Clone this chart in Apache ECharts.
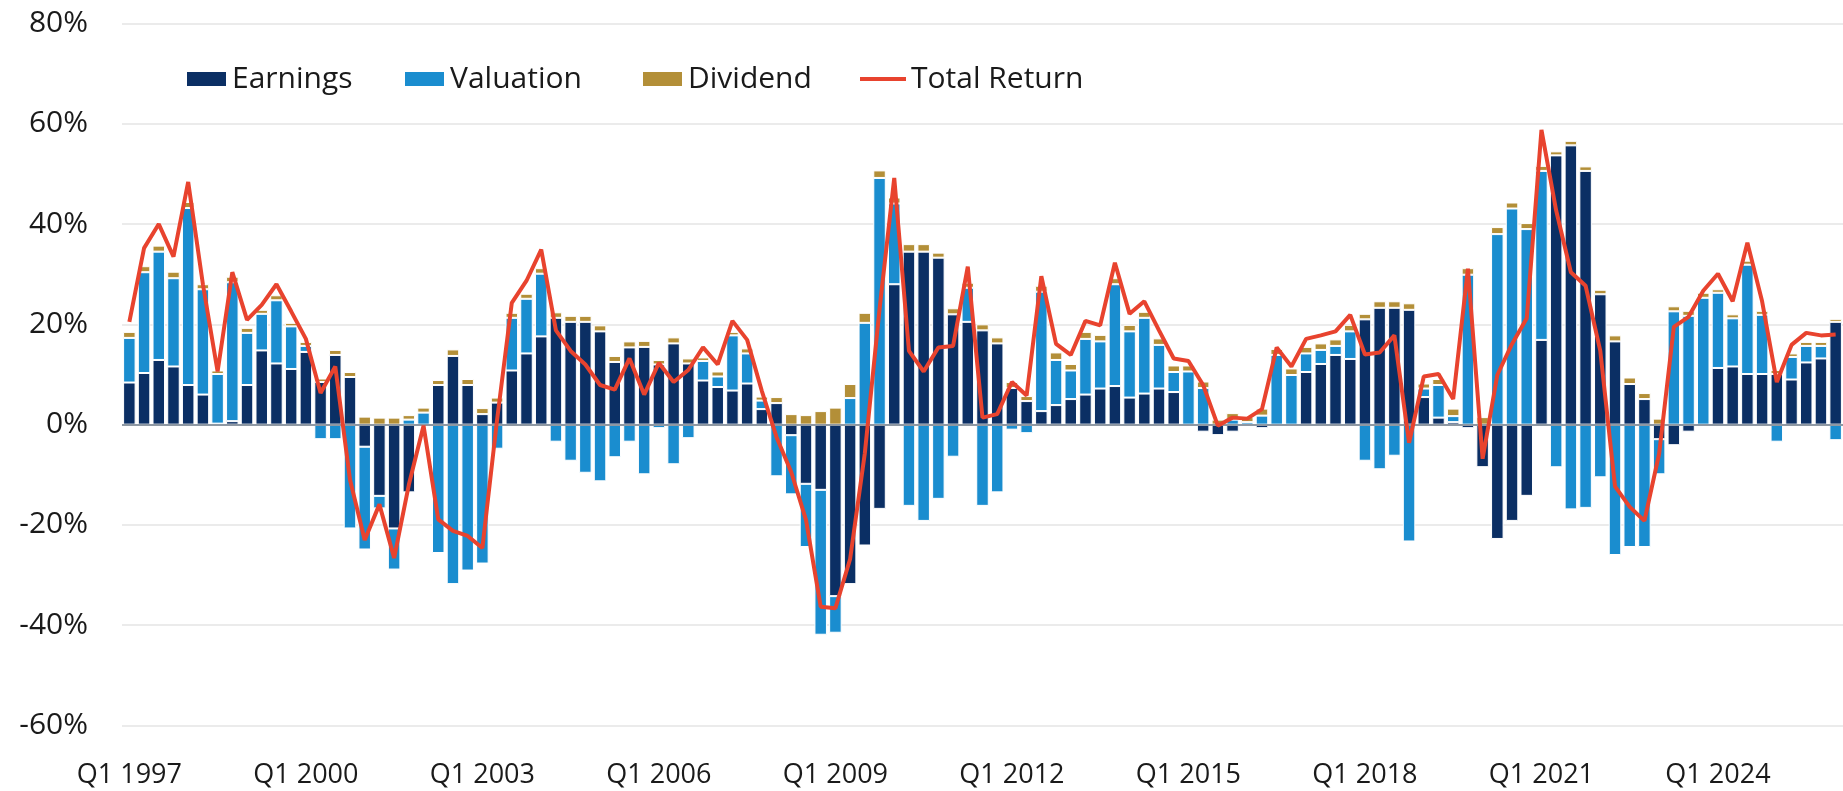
<!DOCTYPE html>
<html>
<head>
<meta charset="utf-8">
<script src="https://cdn.jsdelivr.net/npm/echarts@6/dist/echarts.min.js"></script>
<style>
    html, body { margin: 0; padding: 0; background: #fff; }
    #chart { width: 1843px; height: 791px; }
</style>
</head>
<body>
<div id="chart"></div>
<script>
    // quarterly attribution of total return, Q1 1997 .. Q1 2026 (%)
    const firstYear = 1997;
    const quarterCount = 117;

    const earnings = [
        8.4, 10.3, 12.9, 11.6, 7.9, 6.0, 0.2, 0.7, 7.9, 14.8, 12.2, 11.1,
        14.5, 8.5, 13.9, 9.5, -4.4, -14.2, -20.7, -13.5, 0, 7.9, 13.7, 7.9,
        2.1, 4.4, 10.8, 14.2, 17.6, 21.3, 20.5, 20.5, 18.6, 12.5, 15.4, 15.5,
        12.0, 16.2, 12.2, 8.8, 7.5, 6.8, 8.2, 3.1, 4.3, -2.1, -11.8, -13.0,
        -34.2, -31.8, -24.1, -16.8, 28.0, 34.5, 34.5, 33.3, 22.0, 20.5, 18.8, 16.2,
        7.3, 4.7, 2.7, 3.9, 5.1, 6.0, 7.2, 7.7, 5.4, 6.2, 7.2, 6.5,
        0, -1.4, -2.1, -1.4, -0.3, -0.7, -0.2, -0.2, 10.5, 12.1, 13.9, 13.1,
        21.0, 23.3, 23.3, 22.9, 5.5, 1.4, 0.5, -0.7, -8.5, -22.8, -19.2, -14.2,
        16.9, 53.7, 55.7, 50.6, 26.0, 16.6, 8.1, 5.1, -2.9, -4.1, -1.4, 0,
        11.3, 11.6, 10.1, 10.1, 10.1, 9.0, 12.4, 13.2, 20.5
    ];
    const valuation = [
        8.9, 20.1, 21.6, 17.6, 35.3, 21.0, 9.9, 27.7, 10.4, 7.3, 12.6, 8.5,
        1.2, -2.9, -2.9, -20.7, -20.5, -2.5, -8.2, 1.0, 2.4, -25.6, -31.8, -29.1,
        -27.7, -4.8, 10.5, 10.9, 12.5, -3.4, -7.2, -9.6, -11.3, -6.5, -3.4, -9.9,
        -0.7, -7.9, -2.7, 3.9, 2.1, 11.0, 6.0, 1.7, -10.3, -11.8, -12.6, -28.9,
        -7.3, 5.3, 20.3, 49.2, 16.1, -16.2, -19.2, -14.8, -6.4, 6.8, -16.2, -13.5,
        -1.0, -1.7, 23.8, 9.0, 5.7, 11.1, 9.4, 20.3, 13.2, 15.1, 8.7, 4.0,
        10.6, 7.3, 0, 1.0, 0.5, 1.8, 13.9, 9.9, 3.7, 2.8, 1.8, 5.5,
        -7.2, -8.9, -6.2, -23.3, 1.7, 6.5, 1.2, 29.9, 0, 38.0, 43.1, 39.0,
        33.7, -8.5, -16.9, -16.6, -10.5, -26.0, -24.4, -24.4, -7.0, 22.6, 21.7, 25.3,
        15.0, 9.6, 21.8, 11.8, -3.4, 4.5, 3.3, 2.5, -3.1
    ];
    const dividend = [
        1.2, 1.2, 1.2, 1.3, 1.2, 1.0, 0.7, 1.1, 1.0, 0.8, 1.0, 0.7,
        0.8, 0.7, 1.0, 1.0, 1.6, 1.4, 1.4, 0.9, 1.0, 1.0, 1.3, 1.2,
        1.2, 1.0, 1.0, 1.0, 1.1, 1.1, 1.2, 1.2, 1.2, 1.2, 1.2, 1.2,
        0.9, 1.2, 1.0, 0.7, 1.0, 0.7, 1.0, 0.8, 1.2, 2.1, 1.9, 2.7,
        3.4, 2.8, 2.0, 1.5, 1.2, 1.5, 1.5, 1.0, 1.2, 1.0, 1.2, 1.2,
        1.2, 1.0, 1.2, 1.5, 1.3, 1.4, 1.3, 1.2, 1.3, 1.2, 1.3, 1.3,
        1.2, 1.3, 1.0, 1.3, 1.0, 1.4, 1.2, 1.3, 1.3, 1.3, 1.3, 1.3,
        1.1, 1.3, 1.3, 1.3, 1.0, 1.2, 1.5, 1.3, 1.5, 1.4, 1.2, 1.2,
        1.0, 0.8, 0.9, 0.9, 0.9, 1.2, 1.3, 1.2, 1.2, 1.0, 1.0, 1.0,
        0.7, 0.8, 0.8, 0.8, 0.8, 0.7, 0.8, 0.8, 0.6
    ];
    const totalReturn = [
        20.5, 35.2, 40.0, 33.5, 48.4, 28.0, 10.6, 30.4, 20.9, 23.9, 28.0, 22.6,
        17.1, 6.3, 11.6, -11.0, -23.0, -15.9, -26.6, -12.0, -0.2, -18.9, -21.2, -22.2,
        -24.6, 1.0, 24.3, 28.7, 34.9, 18.8, 14.7, 12.0, 7.9, 7.0, 13.2, 6.0,
        12.3, 8.5, 10.9, 15.4, 12.0, 20.7, 16.9, 6.7, -2.5, -9.5, -19.0, -36.3,
        -36.6, -26.8, -5.7, 23.0, 49.2, 14.7, 10.6, 15.4, 15.7, 31.5, 1.4, 2.1,
        8.5, 5.8, 29.6, 16.1, 13.9, 20.7, 19.8, 32.3, 22.1, 24.6, 18.8, 13.2,
        12.7, 7.9, -0.2, 1.4, 1.2, 3.1, 15.4, 11.6, 17.1, 17.8, 18.6, 21.9,
        14.0, 14.4, 17.8, -3.6, 9.6, 10.1, 5.1, 31.1, -6.8, 9.9, 16.1, 21.2,
        58.8, 42.7, 30.4, 27.7, 14.7, -12.3, -16.4, -19.2, -5.8, 19.5, 21.5, 26.7,
        30.1, 24.6, 36.3, 24.6, 8.5, 15.9, 18.3, 17.8, 18.0
    ];

    const quarters = [];
    for (let i = 0; i < quarterCount; i++) {
        quarters.push(`Q${(i % 4) + 1} ${firstYear + Math.floor(i / 4)}`);
    }

    const colors = {
        earnings: '#0b2f64',
        valuation: '#1a8dcf',
        dividend: '#b38f38',
        total: '#e8432e'
    };
    const fontFamily = "'Open Sans', sans-serif";
    const textColor = '#1a1a1a';

    const myChart = echarts.init(document.getElementById('chart'));

    // one legend per item so each icon sits where the reference has it
    const legendItem = (name, left, extra) => Object.assign({
        data: [{ name: name, icon: 'rect' }],
        left: left,
        top: 64,
        itemWidth: 41,
        itemHeight: 16,
        padding: 0,
        selectedMode: false,
        textStyle: { fontFamily: fontFamily, fontSize: 30, color: textColor }
    }, extra || {});

    const barSeries = (name, data, color) => ({
        name: name,
        type: 'bar',
        stack: 'parts',
        data: data,
        barCategoryGap: '15%',
        itemStyle: { color: color, borderColor: '#ffffff', borderWidth: 1 },
        emphasis: { disabled: true }
    });

    const option = {
        animation: false,
        backgroundColor: '#ffffff',
        legend: [
            legendItem('Earnings', 185),
            legendItem('Valuation', 403),
            legendItem('Dividend', 641),
            legendItem('Total Return', 860, { itemWidth: 46, itemHeight: 4 })
        ],
        grid: {
            left: 122,
            right: 0,
            top: 23.5,
            bottom: 65.5,
            containLabel: false
        },
        xAxis: {
            type: 'category',
            data: quarters,
            axisLine: { show: false, onZero: false },
            axisTick: { show: false },
            axisLabel: {
                interval: 11,
                margin: 36,
                fontFamily: fontFamily,
                fontSize: 27,
                color: textColor
            }
        },
        yAxis: {
            type: 'value',
            min: -60,
            max: 80,
            interval: 20,
            axisLine: { show: false },
            axisTick: { show: false },
            axisLabel: {
                formatter: '{value}%',
                margin: 34,
                fontFamily: fontFamily,
                fontSize: 30,
                color: textColor
            },
            splitLine: { lineStyle: { color: '#e4e4e4', width: 1.5 } }
        },
        series: [
            barSeries('Earnings', earnings, colors.earnings),
            barSeries('Valuation', valuation, colors.valuation),
            barSeries('Dividend', dividend, colors.dividend),
            {
                name: 'Total Return',
                type: 'line',
                data: totalReturn,
                symbol: 'none',
                z: 5,
                lineStyle: { color: colors.total, width: 4 },
                itemStyle: { color: colors.total },
                emphasis: { disabled: true },
                markLine: {
                    silent: true,
                    symbol: 'none',
                    label: { show: false },
                    lineStyle: { color: '#8e98a3', width: 2, type: 'solid' },
                    data: [{ yAxis: 0 }]
                }
            }
        ]
    };

    myChart.setOption(option);
</script>
</body>
</html>
